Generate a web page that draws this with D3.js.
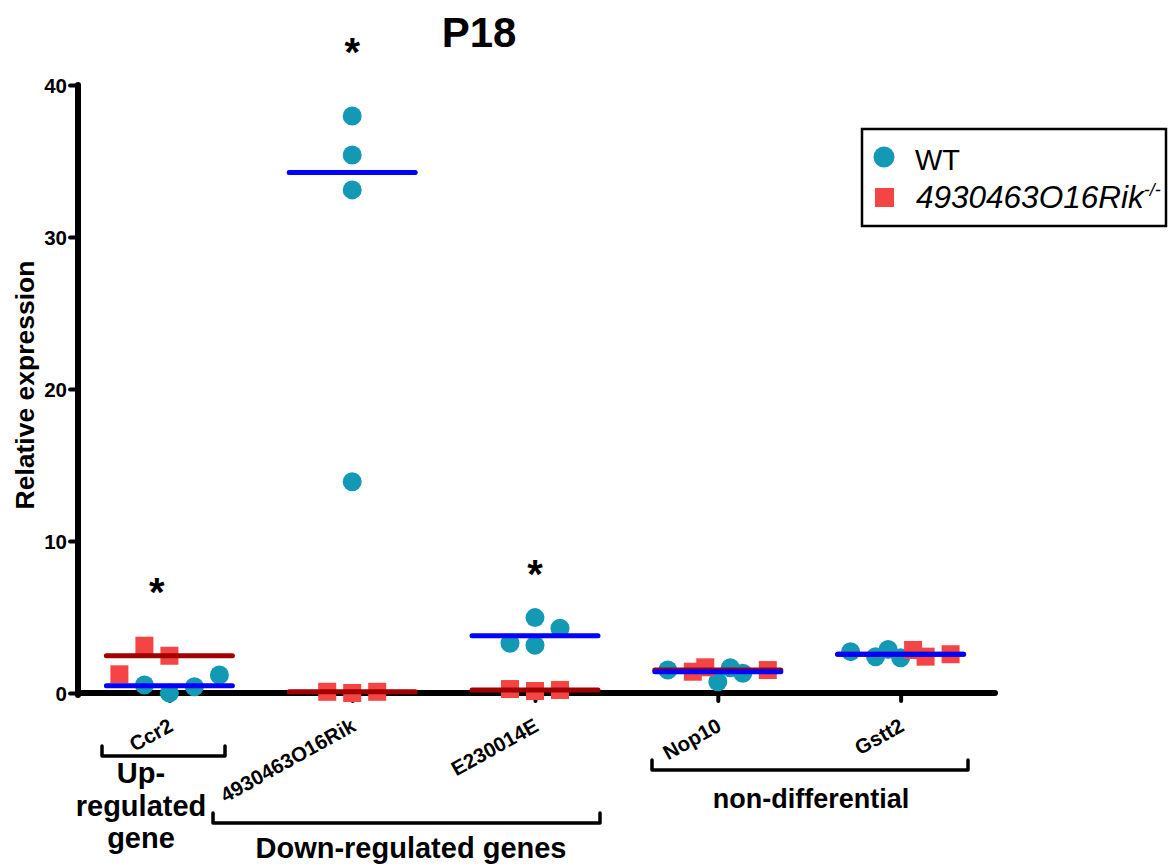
<!DOCTYPE html>
<html>
<head>
<meta charset="utf-8">
<script src="https://cdn.jsdelivr.net/npm/d3@7"></script>
<style>
  html, body { margin: 0; padding: 0; background: #fff; }
  svg { display: block; }
  text { font-family: "Liberation Sans", Arial, Helvetica, sans-serif; }
</style>
</head>
<body>
<script>
// ---------------- data ----------------
const categories = ["Ccr2", "4930463O16Rik", "E230014E", "Nop10", "Gstt2"];
const wtValues = [
  [0.53, 0.0, 0.41, 1.18],
  [37.96, 35.4, 33.1, 13.9],
  [3.27, 4.96, 4.26, 3.14],
  [1.51, 0.74, 1.66, 1.30],
  [2.72, 2.39, 2.87, 2.32]
];
const koValues = [
  [1.23, 3.11, 2.45],
  [0.08, 0.0, 0.08],
  [0.26, 0.13, 0.20],
  [1.40, 1.69, 1.51],
  [2.83, 2.39, 2.55]
];
// horizontal scatter slots of the points (in jitter units)
const wtJitter = [[-2, 0, 2, 4], [0, 0, 0, 0], [-2, 0, 2, 0], [-4, 0, 1, 2], [-4, -2, -1, 0]];
const koJitter = [[-4, -2, 0], [-2, 0, 2], [-2, 0, 2], [-2, -1, 4], [1, 2, 4]];
const starLabels = ["*", "*", "*", "", ""];
const starValues = [7.1, 42.6, 8.3, null, null];
const starJitter = [-1, 0, 0, 0, 0];
const yTicks = [0, 10, 20, 30, 40];
const seriesNames = ["WT", "4930463O16Rik"];
const koSuperscript = "-/-";
const groups = [
  { lines: ["Up-", "regulated", "gene"], from: 0, to: 0 },
  { lines: ["Down-regulated genes"], from: 1, to: 2 },
  { lines: ["non-differential"], from: 3, to: 4 }
];
const title = "P18";
const yTitle = "Relative expression";

// ---------------- layout ----------------
const W = 1176, H = 866;
const wtColor = "#1399b4", koColor = "#f54444";
const wtLine = "#0000ff", koLine = "#a00000";
const jitterUnit = 12.5;

const svg = d3.select("body").append("svg").attr("width", W).attr("height", H);

const x = d3.scalePoint().domain(categories).range([78, 992]).padding(0.5);
const y = d3.scaleLinear().domain([0, 40]).range([693, 85]);

// title
svg.append("text").attr("x", 479).attr("y", 47).attr("text-anchor", "middle")
  .attr("font-size", 42).attr("font-weight", "bold").text(title);

// y title
svg.append("text").attr("transform", "translate(34,385) rotate(-90)")
  .attr("text-anchor", "middle").attr("font-size", 26.5).attr("font-weight", "bold").text(yTitle);

// y axis
const yAxis = svg.append("g").attr("transform", "translate(78,0)")
  .call(d3.axisLeft(y).tickValues(yTicks).tickSize(8).tickSizeOuter(0).tickPadding(3));
yAxis.select(".domain").attr("stroke-width", 6).attr("stroke-linecap", "round")
  .attr("d", `M0,${y(40)}V${y(0) + 2}`);
yAxis.selectAll(".tick line").attr("stroke-width", 4).attr("stroke-linecap", "round");
yAxis.selectAll(".tick text").attr("font-size", 20.5).attr("font-weight", "bold")
  .attr("font-family", '"Liberation Sans", Arial, sans-serif').attr("fill", "#000").attr("dy", "0.36em");

// x axis
const xAxis = svg.append("g").attr("transform", `translate(0,${y(0)})`)
  .call(d3.axisBottom(x).tickSize(8).tickSizeOuter(0).tickFormat(""));
xAxis.select(".domain").attr("stroke-width", 6).attr("stroke-linecap", "round")
  .attr("d", "M78,0H995");
xAxis.selectAll(".tick line").attr("stroke-width", 4).attr("stroke-linecap", "round");

// rotated category labels
svg.append("g").selectAll("text").data(categories).join("text")
  .attr("transform", d => `translate(${x(d) + 5},730) rotate(-29)`)
  .attr("text-anchor", "end").attr("font-size", 20.5).attr("font-weight", "bold").text(d => d);

// points
const pts = svg.append("g");
categories.forEach((c, i) => {
  pts.selectAll(null).data(wtValues[i].map((v, j) => ({ v, j: wtJitter[i][j] }))).join("circle")
    .attr("cx", d => x(c) + d.j * jitterUnit).attr("cy", d => y(d.v)).attr("r", 9.5)
    .attr("fill", wtColor);
});
categories.forEach((c, i) => {
  const s = 18;
  pts.selectAll(null).data(koValues[i].map((v, j) => ({ v, j: koJitter[i][j] }))).join("rect")
    .attr("x", d => x(c) + d.j * jitterUnit - s / 2).attr("y", d => y(d.v) - s / 2)
    .attr("width", s).attr("height", s).attr("fill", koColor);
});

// median lines
const med = svg.append("g");
categories.forEach((c, i) => {
  med.append("line").attr("x1", x(c) - 63).attr("x2", x(c) + 63)
    .attr("y1", y(d3.median(koValues[i]))).attr("y2", y(d3.median(koValues[i])))
    .attr("stroke", koLine).attr("stroke-width", 5).attr("stroke-linecap", "round");
});
categories.forEach((c, i) => {
  med.append("line").attr("x1", x(c) - 63).attr("x2", x(c) + 63)
    .attr("y1", y(d3.median(wtValues[i]))).attr("y2", y(d3.median(wtValues[i])))
    .attr("stroke", wtLine).attr("stroke-width", 5).attr("stroke-linecap", "round");
});

// significance stars
svg.append("g").selectAll("text").data(categories.map((c, i) => ({ c, i })).filter(d => starLabels[d.i]))
  .join("text")
  .attr("x", d => x(d.c) + starJitter[d.i] * jitterUnit)
  .attr("y", d => y(starValues[d.i]) + 21)
  .attr("text-anchor", "middle").attr("font-size", 40).attr("font-weight", "bold")
  .text(d => starLabels[d.i]);

// group brackets and labels
const bracketY = [756, 823, 770];
const labelLayouts = [
  { cx: 141, base: 783, size: 29, lh: 32.5 },
  { cx: 411, base: 858, size: 29, lh: 32 },
  { cx: 811, base: 808, size: 27, lh: 30 }
];
const bracketExt = [[102, 225], [213, 600], [652, 968]];
groups.forEach((g, k) => {
  const [x0, x1] = bracketExt[k];
  const by = bracketY[k];
  svg.append("path").attr("d", `M${x0},${by - 10}V${by}H${x1}V${by - 10}`)
    .attr("fill", "none").attr("stroke", "#000").attr("stroke-width", 3.5)
    .attr("stroke-linejoin", "round").attr("stroke-linecap", "round");
  const L = labelLayouts[k];
  g.lines.forEach((t, li) => {
    svg.append("text").attr("x", L.cx).attr("y", L.base + li * L.lh)
      .attr("text-anchor", "middle").attr("font-size", L.size).attr("font-weight", "bold").text(t);
  });
});

// legend
const lg = svg.append("g");
lg.append("rect").attr("x", 862).attr("y", 129).attr("width", 304).attr("height", 97)
  .attr("fill", "#fff").attr("stroke", "#000").attr("stroke-width", 2.5);
lg.append("circle").attr("cx", 884).attr("cy", 157).attr("r", 10.5).attr("fill", wtColor);
lg.append("rect").attr("x", 875).attr("y", 188).attr("width", 19).attr("height", 19).attr("fill", koColor);
lg.append("text").attr("x", 915).attr("y", 170).attr("font-size", 29).text(seriesNames[0]);
const t2 = lg.append("text").attr("x", 916).attr("y", 208).attr("font-size", 31.5).attr("font-style", "italic");
t2.append("tspan").text(seriesNames[1]);
t2.append("tspan").attr("dy", -12).attr("font-size", 18).text(koSuperscript);
</script>
</body>
</html>
